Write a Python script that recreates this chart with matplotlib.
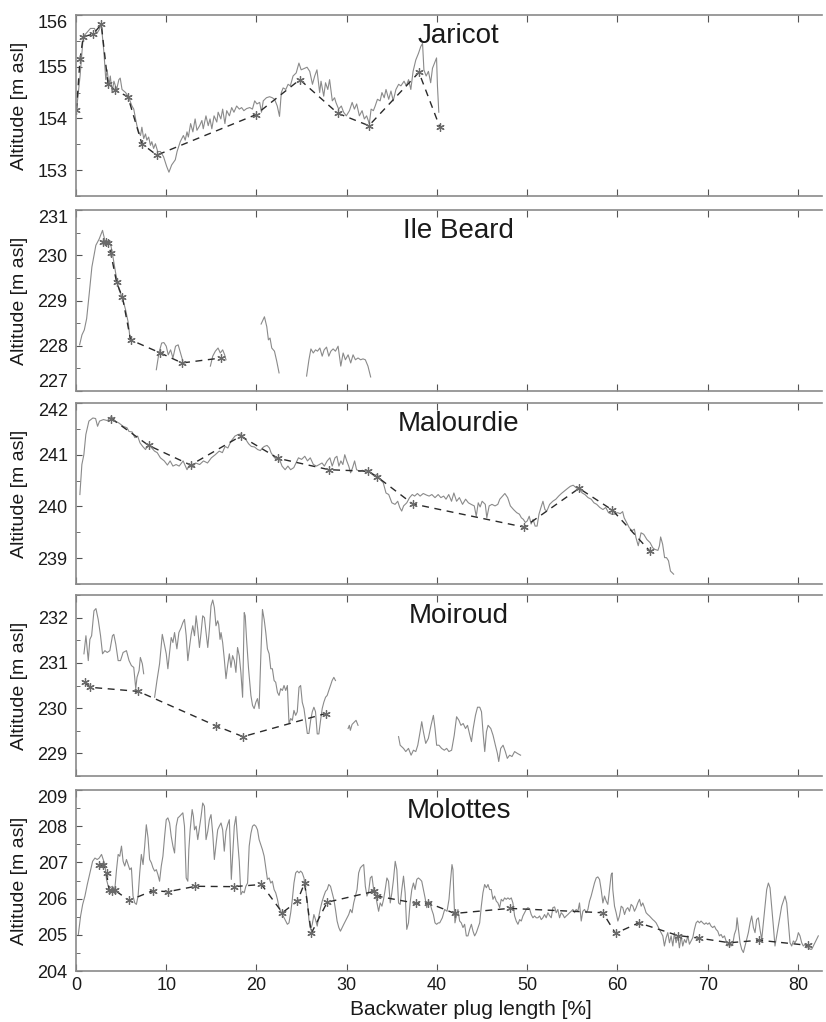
import matplotlib
matplotlib.use('Agg')
import matplotlib.pyplot as plt
from matplotlib.ticker import MultipleLocator

plt.rcParams['font.family'] = ['Liberation Sans', 'DejaVu Sans']

# ---------------- data ----------------
# Jaricot
jar_x = [0.05, 0.45, 0.8, 1.25, 1.6, 2.05, 2.3, 2.55, 2.8, 3.1,
         3.3, 3.45, 3.65, 3.8, 4.0, 4.2, 4.5, 4.75, 4.9, 5.1,
         5.5, 5.85, 6.2, 6.4, 6.6, 6.75, 6.95, 7.15, 7.3, 7.5,
         7.7, 7.85, 8.05, 8.25, 8.4, 8.6, 8.8, 9.05, 9.35, 9.7,
         10.05, 10.3, 10.6, 11.0, 11.2, 11.55, 11.9, 12.1, 12.3, 12.45,
         12.7, 12.95, 13.2, 13.4, 13.7, 13.95, 14.1, 14.4, 14.65, 14.85,
         15.05, 15.3, 15.6, 15.75, 16.05, 16.25, 16.5, 16.7, 17.0, 17.25,
         17.5, 17.8, 18.1, 18.35, 18.6, 18.9, 19.25, 19.55, 19.8, 20.05,
         20.35, 20.55, 20.75, 21.1, 21.45, 21.75, 22.0, 22.3, 22.55, 22.75,
         22.95, 23.25, 23.5, 23.75, 24.05, 24.4, 24.7, 24.95, 25.35, 25.6,
         25.9, 26.2, 26.45, 26.7, 27.0, 27.15, 27.45, 27.65, 27.9, 28.1,
         28.4, 28.65, 28.8, 29.1, 29.4, 29.65, 29.95, 30.3, 30.6, 30.85,
         31.1, 31.4, 31.7, 31.95, 32.2, 32.5, 32.7, 32.95, 33.15, 33.4,
         33.7, 33.9, 34.15, 34.35, 34.65, 34.9, 35.15, 35.45, 35.75, 36.0,
         36.35, 36.6, 36.85, 37.1, 37.35, 37.65, 37.95, 38.2, 38.4, 38.55,
         38.8, 39.05, 39.3, 39.5, 39.8, 39.95, 40.05, 40.2]
jar_y = [154.15, 154.82, 155.58, 155.67, 155.74, 155.74, 155.64, 155.71, 155.83, 155.26,
         154.75, 154.94, 154.63, 154.82, 154.50, 154.72, 154.56, 154.75, 154.78, 154.56,
         154.50, 154.40, 154.24, 154.18, 153.99, 153.86, 153.74, 153.67, 153.83, 153.61,
         153.70, 153.58, 153.64, 153.48, 153.55, 153.42, 153.51, 153.36, 153.36, 153.26,
         153.07, 152.96, 153.10, 153.20, 153.36, 153.55, 153.67, 153.58, 153.74, 153.64,
         153.90, 153.74, 153.99, 153.77, 153.86, 153.96, 153.80, 154.05, 153.86, 153.99,
         153.80, 154.05, 153.93, 154.12, 153.99, 154.18, 153.90, 154.15, 154.05, 154.21,
         154.12, 154.24, 154.18, 154.21, 154.15, 154.19, 154.21, 154.18, 154.34, 154.28,
         154.31, 154.12, 154.34, 154.40, 154.42, 154.40, 154.37, 154.24, 154.04, 154.50,
         154.59, 154.56, 154.66, 154.63, 154.82, 154.88, 155.07, 154.94, 154.97, 154.99,
         154.91, 154.66, 154.82, 154.94, 154.50, 154.72, 154.43, 154.69, 154.56, 154.75,
         154.34, 154.40, 154.31, 154.18, 154.24, 154.12, 154.05, 154.15, 154.31, 154.18,
         154.28, 154.05, 154.15, 153.99, 154.05, 153.90, 154.18, 154.15, 154.24, 154.37,
         154.34, 154.50, 154.40, 154.56, 154.37, 154.53, 154.34, 154.56, 154.66, 154.63,
         154.72, 154.63, 154.75, 154.56, 154.91, 155.13, 155.26, 155.39, 155.45, 154.94,
         154.82, 154.91, 154.69, 154.97, 155.10, 155.17, 154.63, 154.12]
jar_mx = [0.05, 0.45, 0.8, 1.9, 2.8, 3.55, 4.3, 5.75, 7.3, 8.95, 19.9, 24.8, 29.0, 32.45, 38.0, 40.3]
jar_my = [154.16, 155.15, 155.58, 155.63, 155.82, 154.66, 154.55, 154.42, 153.51, 153.29,
          154.07, 154.75, 154.10, 153.86, 154.89, 153.84]

# Ile Beard (profile has gaps -> several pieces)
ile_x1 = [0.4, 0.66, 0.92, 1.18, 1.47, 1.76, 2.2, 2.57, 2.94, 3.24, 3.6, 3.86, 4.04, 4.4,
          4.78, 5.15, 5.5, 5.8, 6.0]
ile_y1 = [228.02, 228.24, 228.35, 228.6, 229.16, 229.74, 230.22, 230.36, 230.55, 230.29, 230.31,
          230.22, 230.03, 229.6, 229.23, 229.05, 228.79, 228.5, 228.13]
ile_x2 = [8.9, 9.19, 9.49, 9.74, 10.0, 10.22, 10.48, 10.74, 11.03, 11.32, 11.58, 11.84]
ile_y2 = [227.47, 227.84, 228.06, 228.07, 227.99, 227.8, 227.91, 227.73, 227.99, 228.02, 227.84, 227.66]
ile_x3 = [14.89, 15.15, 15.44, 15.74, 15.99, 16.25, 16.47, 16.62]
ile_y3 = [227.55, 227.77, 227.88, 227.95, 227.84, 227.91, 227.8, 227.69]
ile_x4 = [20.51, 20.88, 21.14, 21.32, 21.5, 21.69, 21.99, 22.24, 22.5]
ile_y4 = [228.48, 228.64, 228.42, 228.13, 228.17, 227.95, 227.88, 227.66, 227.4]
ile_x5 = [25.55, 25.81, 26.03, 26.29, 26.54, 26.76, 27.02, 27.28, 27.5, 27.76, 28.01, 28.24, 28.49, 28.75,
          29.04, 29.34, 29.6, 29.85, 30.15, 30.44, 30.7, 30.96, 31.25, 31.54, 31.8, 32.06, 32.35, 32.65]
ile_y5 = [227.33, 227.69, 227.93, 227.84, 227.91, 227.88, 227.95, 227.77, 227.91, 227.97, 227.77, 227.88,
          227.93, 227.88, 227.99, 227.55, 227.84, 227.69, 227.8, 227.62, 227.8, 227.69, 227.73, 227.69,
          227.71, 227.69, 227.55, 227.31]
ile_mx = [3.0, 3.3, 3.6, 3.85, 4.5, 5.15, 6.05, 9.35, 11.75, 16.1]
ile_my = [230.29, 230.29, 230.27, 230.05, 229.4, 229.07, 228.13, 227.84, 227.62, 227.73]

# Malourdie
mal_x = [0.43, 0.65, 0.87, 1.09, 1.43, 1.87, 2.17, 2.39, 2.61, 3.04,
         3.48, 3.91, 4.35, 4.78, 5.22, 5.65, 5.87, 6.22, 6.52, 6.83,
         7.09, 7.39, 7.7, 8.04, 8.39, 8.7, 9.0, 9.35, 9.78, 10.13,
         10.43, 10.74, 11.09, 11.43, 11.87, 12.3, 12.61, 12.91, 13.26, 13.7,
         14.13, 14.57, 15.0, 15.43, 15.87, 16.22, 16.52, 16.83, 17.17, 17.61,
         17.96, 18.26, 18.48, 18.83, 19.13, 19.43, 19.78, 20.13, 20.43, 20.65,
         20.87, 21.17, 21.43, 21.61, 21.87, 22.17, 22.48, 22.83, 23.17, 23.48,
         23.78, 24.13, 24.48, 24.65, 25.0, 25.35, 25.65, 25.96, 26.3, 26.65,
         26.96, 27.26, 27.52, 27.83, 28.13, 28.39, 28.7, 28.91, 29.13, 29.35,
         29.57, 29.78, 30.0, 30.22, 30.43, 30.65, 30.87, 31.09, 31.43, 31.74,
         32.04, 32.39, 32.74, 33.04, 33.35, 33.7, 34.04, 34.35, 34.65, 35.0,
         35.35, 35.65, 35.87, 36.09, 36.3, 36.65, 36.96, 37.26, 37.52, 37.83,
         38.13, 38.48, 38.83, 39.13, 39.43, 39.78, 40.13, 40.43, 40.74, 41.0,
         41.3, 41.61, 41.87, 42.17, 42.48, 42.83, 43.17, 43.48, 43.78, 44.13,
         44.35, 44.57, 44.78, 45.0, 45.35, 45.52, 45.78, 46.09, 46.43, 46.74,
         46.96, 47.26, 47.52, 47.83, 48.13, 48.48, 48.83, 49.13, 49.35, 49.57,
         49.78, 50.0, 50.22, 50.43, 50.65, 50.87, 51.09, 51.3, 51.52, 51.74,
         51.96, 52.17, 52.48, 52.83, 53.17, 53.48, 53.78, 54.13, 54.48, 54.78,
         55.09, 55.43, 55.78, 56.09, 56.39, 56.74, 57.09, 57.39, 57.7, 58.04,
         58.39, 58.7, 59.0, 59.35, 59.7, 60.0, 60.3, 60.57, 60.74, 61.0,
         61.3, 61.61, 61.87, 62.04, 62.3, 62.61, 62.91, 63.26, 63.61, 63.91,
         64.13, 64.48, 64.65, 64.78, 65.0, 65.22, 65.43, 65.65, 65.87, 66.22]
mal_y = [240.23, 240.81, 241.0, 241.39, 241.65, 241.71, 241.70, 241.55, 241.65, 241.68,
         241.66, 241.74, 241.65, 241.61, 241.55, 241.52, 241.45, 241.44, 241.33, 241.36,
         241.23, 241.16, 241.10, 241.20, 241.13, 241.07, 241.04, 240.94, 240.88, 240.80,
         240.88, 240.78, 240.81, 240.78, 240.88, 240.71, 240.81, 240.76, 240.84, 240.81,
         240.88, 240.84, 240.94, 241.0, 241.07, 241.04, 241.16, 241.13, 241.26, 241.36,
         241.39, 241.40, 241.33, 241.29, 241.21, 241.16, 241.15, 241.10, 241.08, 241.13,
         241.16, 241.18, 241.13, 241.04, 240.97, 240.91, 240.94, 240.78, 240.71, 240.78,
         240.71, 240.75, 240.88, 240.94, 240.91, 240.97, 240.88, 240.94, 240.81, 240.78,
         240.81, 240.84, 240.78, 240.88, 240.94, 240.78, 240.94, 240.97, 240.78, 240.88,
         240.81, 241.0, 240.88, 240.78, 240.65, 240.75, 240.88, 240.71, 240.68, 240.70,
         240.67, 240.70, 240.63, 240.59, 240.62, 240.52, 240.46, 240.26, 240.23, 240.07,
         240.04, 240.10, 239.98, 239.91, 240.01, 240.07, 240.17, 240.23, 240.20, 240.25,
         240.20, 240.25, 240.22, 240.20, 240.23, 240.17, 240.23, 240.17, 240.20, 240.14,
         240.23, 240.10, 240.26, 240.10, 240.17, 240.04, 240.14, 240.07, 240.04, 240.01,
         239.81, 240.07, 239.99, 240.10, 240.04, 239.78, 240.01, 240.04, 240.01, 240.04,
         240.14, 240.20, 240.25, 240.17, 240.01, 239.94, 239.88, 239.85, 239.78, 239.75,
         239.69, 239.72, 239.81, 239.66, 239.75, 239.62, 239.62, 239.85, 239.98, 240.10,
         239.94, 239.91, 240.04, 240.10, 240.14, 240.20, 240.25, 240.30, 240.35, 240.39,
         240.41, 240.36, 240.33, 240.26, 240.23, 240.17, 240.14, 240.07, 240.04, 239.98,
         239.94, 239.98, 239.88, 239.85, 239.85, 239.88, 239.86, 239.90, 239.78, 239.69,
         239.59, 239.53, 239.56, 239.40, 239.24, 239.49, 239.46, 239.36, 239.30, 239.20,
         239.17, 239.15, 239.24, 239.41, 239.27, 239.01, 239.01, 238.95, 238.75, 238.69]
mal_mx = [3.91, 8.04, 12.7, 18.26, 22.39, 28.04, 32.39, 33.39, 37.3, 49.65, 55.74, 59.43, 63.57]
mal_my = [241.70, 241.18, 240.80, 241.36, 240.93, 240.71, 240.68, 240.57, 240.05, 239.60,
          240.35, 239.93, 239.14]

# Moiroud (profile has gaps)
moi_x1 = [0.88, 1.1, 1.36, 1.54, 1.73, 1.99, 2.21, 2.46, 2.72, 2.94, 3.2, 3.46, 3.75, 4.04, 4.19,
          4.41, 4.67, 4.93, 5.22, 5.59, 5.88, 6.14, 6.4, 6.62, 6.76, 6.99, 7.13, 7.35, 7.5]
moi_y1 = [231.2, 231.6, 231.05, 231.52, 231.6, 232.15, 232.2, 231.96, 231.6, 231.2, 231.27, 231.23,
          231.27, 231.6, 231.63, 231.41, 231.05, 231.05, 231.23, 231.27, 231.05, 230.94, 230.9,
          230.43, 230.68, 230.83, 231.12, 230.98, 230.76]
moi_x2 = [8.71, 8.97, 9.26, 9.56, 9.82, 10.0, 10.18, 10.37, 10.55, 10.74,
          10.92, 11.18, 11.4, 11.65, 11.84, 12.02, 12.21, 12.39, 12.57, 12.76,
          12.94, 13.13, 13.31, 13.49, 13.68, 13.86, 14.04, 14.23, 14.41, 14.6,
          14.78, 14.96, 15.15, 15.33, 15.51, 15.7, 15.81, 15.96, 16.07, 16.25,
          16.43, 16.62, 16.8, 16.99, 17.17, 17.35, 17.54, 17.72, 17.9, 18.09,
          18.27, 18.46, 18.64, 18.75, 18.9, 19.12, 19.38, 19.56, 19.74, 19.93,
          20.11, 20.29, 20.48, 20.66, 20.85, 21.03, 21.21, 21.4, 21.58, 21.76,
          21.95, 22.13, 22.32, 22.5, 22.68, 22.87, 23.05, 23.24, 23.42, 23.6,
          23.79, 23.97, 24.15, 24.34, 24.52, 24.71, 24.89, 25.07, 25.26, 25.44,
          25.63, 25.81, 26.0, 26.18, 26.36, 26.54, 26.73, 26.91, 27.1, 27.28,
          27.46, 27.65, 27.83, 28.01, 28.2, 28.38, 28.57, 28.75]
moi_y2 = [230.24, 230.61, 230.98, 231.63, 231.38, 231.2, 230.87, 231.23, 231.56, 231.45,
          231.67, 231.31, 231.67, 231.78, 231.89, 231.96, 231.6, 231.05, 231.34, 231.63,
          231.82, 231.6, 232.04, 231.74, 231.34, 231.67, 232.04, 232.0, 231.67, 231.34,
          231.74, 232.26, 232.39, 232.22, 231.82, 231.93, 231.85, 231.52, 231.67, 231.45,
          231.09, 230.65, 230.94, 231.2, 230.9, 231.16, 231.05, 230.79, 231.34, 231.16,
          230.79, 230.24, 232.11, 232.04, 231.52, 230.87, 230.28, 230.06, 229.99, 230.13,
          230.21, 229.99, 231.16, 232.18, 231.96, 231.67, 231.31, 231.2, 230.87, 230.87,
          230.61, 230.57, 230.35, 230.28, 230.43, 230.39, 230.5, 230.39, 230.5, 229.66,
          229.77, 229.73, 229.95, 229.84, 229.92, 230.46, 230.5, 230.13, 229.99, 229.73,
          229.44, 229.44, 229.73, 229.92, 230.02, 229.92, 229.43, 229.43, 229.73, 229.99,
          230.13, 230.24, 230.28, 230.39, 230.5, 230.61, 230.68, 230.61]
moi_x3 = [30.15, 30.29, 30.4, 30.59, 30.88, 31.03, 31.25]
moi_y3 = [229.55, 229.62, 229.51, 229.64, 229.7, 229.73, 229.62]
moi_x4 = [35.74, 35.92, 36.29, 36.54, 36.84, 37.13, 37.39, 37.65, 37.87, 38.13,
          38.31, 38.49, 38.75, 39.04, 39.34, 39.6, 39.78, 39.96, 40.22, 40.51,
          40.81, 41.07, 41.32, 41.62, 41.91, 42.17, 42.43, 42.65, 42.9, 43.16,
          43.38, 43.64, 43.82, 44.01, 44.26, 44.49, 44.74, 44.93, 45.11, 45.29,
          45.48, 45.66, 45.96, 46.21, 46.47, 46.69, 46.84, 47.06, 47.32, 47.57,
          47.79, 48.05, 48.31, 48.6, 48.9, 49.26]
moi_y4 = [229.37, 229.18, 229.11, 229.04, 229.11, 228.96, 229.07, 229.04, 229.18, 229.48,
          229.7, 229.48, 229.22, 229.33, 229.62, 229.84, 229.55, 229.18, 229.18, 229.11,
          229.07, 229.11, 229.04, 229.07, 229.4, 229.81, 229.73, 229.62, 229.66, 229.55,
          229.62, 229.4, 229.26, 229.55, 229.84, 230.02, 230.02, 229.92, 229.44, 229.04,
          229.48, 229.62, 229.55, 229.4, 229.18, 229.0, 228.82, 229.11, 229.18, 229.04,
          228.89, 228.96, 228.93, 229.04, 229.0, 228.96]
moi_mx = [0.95, 1.6, 6.9, 15.5, 18.5, 27.65]
moi_my = [230.57, 230.46, 230.37, 229.61, 229.37, 229.88]

# Molottes
mol_x = [0.26, 0.51, 0.74, 0.99, 1.25, 1.54, 1.84, 2.1, 2.35, 2.57,
         2.83, 3.01, 3.2, 3.38, 3.57, 3.75, 4.04, 4.3, 4.49, 4.67,
         4.85, 5.04, 5.22, 5.4, 5.59, 5.77, 5.96, 6.14, 6.32, 6.51,
         6.69, 6.88, 7.06, 7.24, 7.43, 7.61, 7.79, 7.98, 8.16, 8.35,
         8.53, 8.71, 8.9, 9.08, 9.26, 9.45, 9.63, 9.82, 10.0, 10.18,
         10.37, 10.55, 10.74, 10.92, 11.1, 11.29, 11.47, 11.65, 11.84, 12.02,
         12.21, 12.39, 12.5, 12.65, 12.87, 13.01, 13.13, 13.31, 13.49, 13.68,
         13.86, 14.04, 14.23, 14.41, 14.6, 14.78, 14.96, 15.15, 15.33, 15.51,
         15.7, 15.88, 16.07, 16.25, 16.43, 16.62, 16.8, 16.99, 17.1, 17.21,
         17.35, 17.54, 17.72, 17.9, 18.09, 18.27, 18.46, 18.64, 18.82, 19.01,
         19.19, 19.38, 19.56, 19.74, 19.93, 20.11, 20.29, 20.48, 20.66, 20.85,
         21.03, 21.21, 21.4, 21.58, 21.76, 21.95, 22.13, 22.32, 22.5, 22.68,
         22.87, 23.05, 23.24, 23.42, 23.6, 23.79, 23.97, 24.15, 24.34, 24.52,
         24.71, 24.89, 25.07, 25.26, 25.44, 25.63, 25.81, 26.0, 26.18, 26.36,
         26.54, 26.73, 26.91, 27.1, 27.28, 27.46, 27.65, 27.83, 28.01, 28.2,
         28.38, 28.57, 28.75, 28.93, 29.12, 29.3, 29.49, 29.67, 29.85, 30.04,
         30.22, 30.4, 30.59, 30.77, 30.96, 31.14, 31.32, 31.51, 31.69, 31.88,
         32.06, 32.24, 32.43, 32.61, 32.79, 32.98, 33.16, 33.35, 33.53, 33.71,
         33.9, 34.08, 34.26, 34.45, 34.63, 34.82, 35.0, 35.18, 35.37, 35.55,
         35.74, 35.92, 36.1, 36.29, 36.47, 36.65, 36.84, 37.02, 37.21, 37.39,
         37.57, 37.76, 37.94, 38.13, 38.31, 38.49, 38.68, 38.86, 39.04, 39.23,
         39.41, 39.6, 39.78, 39.96, 40.15,
         40.3, 40.59, 40.85, 41.11, 41.33, 41.51, 41.66, 41.77, 41.88, 41.99,
         42.14, 42.32, 42.51, 42.69, 42.88, 43.06, 43.25, 43.43, 43.62, 43.81,
         43.99, 44.17, 44.36, 44.55, 44.73, 44.91, 45.09, 45.28, 45.47, 45.65,
         45.83, 46.01, 46.2, 46.38, 46.57, 46.75, 46.94, 47.12, 47.31, 47.49,
         47.67, 47.86, 48.04, 48.23, 48.41, 48.6, 48.78, 48.97, 49.16, 49.34,
         49.52, 49.71, 49.89, 50.07, 50.26, 50.44, 50.63, 50.81, 51.0, 51.18,
         51.37, 51.55, 51.73, 51.92, 52.1, 52.29, 52.47, 52.66, 52.84, 53.03,
         53.21, 53.39, 53.58, 53.76, 53.95, 54.13, 54.32, 54.5, 54.69, 54.87,
         55.06, 55.24, 55.42, 55.61, 55.79, 55.98, 56.16, 56.35, 56.53, 56.72,
         56.9, 57.08, 57.27, 57.45, 57.64, 57.82, 58.01, 58.19, 58.38, 58.56,
         58.75, 58.93, 59.11, 59.3, 59.41, 59.48, 59.67, 59.85, 60.04, 60.22,
         60.41, 60.59, 60.78, 60.96, 61.14, 61.33, 61.51, 61.7, 61.88, 62.07,
         62.25, 62.44, 62.62, 62.8, 62.99, 63.17, 63.36, 63.54, 63.73, 63.91,
         64.1, 64.28, 64.46, 64.65, 64.83, 65.02, 65.2, 65.39, 65.57, 65.76,
         65.94, 66.13, 66.31, 66.49, 66.68, 66.86, 67.05, 67.23, 67.42, 67.6,
         67.79, 67.97, 68.15, 68.34, 68.52, 68.71, 68.89, 69.08, 69.26, 69.45,
         69.63, 69.82, 70.0, 70.18, 70.37, 70.55, 70.74, 70.92, 71.11, 71.29,
         71.48, 71.66, 71.85, 72.03, 72.21, 72.4, 72.58, 72.77, 72.95, 73.14,
         73.25, 73.4, 73.58, 73.76, 73.95, 74.13, 74.32, 74.5, 74.69, 74.87,
         75.06, 75.24, 75.42, 75.61, 75.79, 75.98, 76.16, 76.35, 76.53, 76.72,
         76.9, 77.08, 77.27, 77.45, 77.64, 77.82, 78.01, 78.19, 78.38, 78.56,
         78.75, 78.94, 79.12, 79.3, 79.49, 79.67, 79.86, 80.04, 80.22, 80.41,
         80.59, 80.78, 80.96, 81.15, 81.33, 81.52, 81.7, 81.88, 82.07, 82.25]
mol_y = [205.01, 205.52, 205.84, 206.07, 206.39, 206.71, 207.03, 207.12, 207.08, 207.12,
         207.22, 207.08, 206.94, 206.53, 206.34, 206.30, 206.34, 206.25, 206.80, 207.22,
         207.17, 207.45, 207.03, 206.90, 207.08, 206.94, 206.80, 206.85, 206.07, 205.88,
         205.84, 206.07, 206.71, 207.22, 206.94, 207.45, 208.04, 207.68, 207.08, 206.99,
         206.85, 206.76, 206.80, 206.66, 206.48, 206.90, 207.17, 207.72, 208.18, 208.23,
         208.09, 207.72, 207.45, 207.26, 208.0, 208.23, 208.27, 208.32, 208.37, 208.0,
         206.57, 206.48, 207.35, 207.90, 208.46, 208.27, 207.90, 208.0, 207.63, 207.95,
         208.27, 208.64, 208.55, 207.63, 207.86, 208.18, 208.32, 207.80, 207.08, 207.49,
         207.90, 208.0, 208.09, 207.90, 207.31, 207.86, 208.04, 208.18, 207.40, 206.53,
         207.17, 208.0, 208.27, 207.63, 207.03, 206.11, 206.20, 206.16, 206.34, 206.43,
         207.45, 207.80, 208.0, 208.04, 208.0, 207.90, 207.63, 207.49, 207.35, 207.17,
         206.85, 206.53, 206.57, 206.43, 206.48, 206.25, 206.16, 205.98, 205.75, 205.65,
         205.56, 205.47, 205.38, 205.29, 205.33, 205.61, 205.98, 206.43, 206.71, 206.76,
         206.71, 206.76, 206.71, 206.57, 206.25, 205.93, 205.42, 205.15, 205.29, 205.56,
         205.42, 205.24, 205.52, 205.75, 205.93, 206.07, 206.20, 206.25, 206.39, 206.34,
         206.16, 205.98, 205.70, 205.38, 205.20, 205.10, 205.20, 205.29, 205.38, 205.47,
         205.56, 205.70, 205.61, 205.88, 206.07, 206.25, 206.71, 206.85, 206.90, 206.94,
         206.34, 206.07, 206.20, 206.57, 206.62, 206.25, 206.16, 205.88, 205.65, 205.88,
         205.79, 205.98, 206.25, 206.57, 206.48, 205.88, 206.16, 206.53, 207.03, 206.80,
         205.88, 205.84, 206.25, 206.62, 206.16, 205.15, 205.33, 205.88, 206.25, 206.43,
         206.25, 206.53, 206.57, 206.53, 206.48, 206.25, 206.02, 205.75, 205.93, 205.88,
         205.70, 205.56, 205.33, 205.29, 205.33,
         205.33, 205.47, 205.70, 205.65, 205.98, 206.53, 206.94, 206.80, 205.98, 205.33,
         205.52, 205.70, 205.38, 205.33, 205.20, 205.29, 204.97, 204.97, 205.15, 205.29,
         205.10, 204.97, 205.06, 205.20, 205.33, 205.79, 206.16, 206.39, 206.30, 206.39,
         206.25, 206.25, 205.98, 206.07, 205.93, 205.88, 205.75, 205.98, 205.93, 206.02,
         205.98, 206.02, 205.98, 206.02, 205.88, 205.52, 205.38, 205.29, 205.42, 205.38,
         205.52, 205.61, 205.70, 205.75, 205.72, 205.56, 205.47, 205.52, 205.47, 205.47,
         205.52, 205.42, 205.47, 205.56, 205.47, 205.61, 205.53, 205.47, 205.75, 205.77,
         205.61, 205.70, 205.47, 205.61, 205.56, 205.47, 205.52, 205.56, 205.61, 205.65,
         205.70, 205.61, 205.70, 205.65, 205.88, 205.38, 205.65, 205.70, 205.61, 205.70,
         205.93, 206.07, 206.25, 206.43, 206.57, 206.60, 206.53, 206.25, 205.88, 206.07,
         205.93, 205.84, 206.25, 206.66, 206.71, 206.25, 205.79, 205.61, 205.38, 205.52,
         205.79, 205.75, 205.56, 205.70, 205.75, 205.65, 205.84, 205.79, 205.65, 205.75,
         205.88, 205.98, 205.79, 205.88, 205.75, 205.61, 205.56, 205.52, 205.47, 205.42,
         205.38, 205.33, 205.24, 205.15, 205.06, 204.97, 204.69, 204.92, 205.06, 204.78,
         204.97, 204.69, 205.06, 204.78, 204.97, 204.64, 204.97, 204.69, 204.87, 204.78,
         204.97, 204.74, 204.83, 204.92, 205.15, 205.33, 205.38, 205.33, 205.38, 205.33,
         205.29, 205.33, 205.29, 205.33, 205.24, 205.20, 205.24, 205.15, 205.10, 204.97,
         205.01, 204.92, 204.97, 204.83, 204.69, 204.78, 204.69, 204.74, 205.01, 205.15,
         205.47, 205.15, 204.78, 204.60, 204.51, 204.69, 204.87, 205.06, 205.33, 205.52,
         205.20, 205.06, 205.42, 205.47, 205.15, 204.87, 205.33, 205.79, 206.25, 206.43,
         206.30, 205.79, 205.24, 204.69, 204.97, 205.24, 205.52, 205.79, 205.93, 206.07,
         205.88, 205.33, 204.78, 204.69, 204.83, 204.78, 204.87, 205.06, 204.97, 204.78,
         204.69, 204.74, 204.64, 204.69, 204.60, 204.60, 204.69, 204.78, 204.87, 204.97]
mol_mx = [2.57, 3.01, 3.38, 3.68, 4.01, 4.3, 5.88, 8.53, 10.18, 13.24, 17.46, 20.55, 22.87,
          24.52, 25.33, 26.07, 27.83, 33.05, 33.35, 37.68, 39.04, 41.96, 48.04, 58.38, 59.78,
          62.36, 66.68, 69.0, 72.4, 75.72, 81.07]
mol_my = [206.92, 206.92, 206.71, 206.23, 206.2, 206.23, 205.95, 206.22, 206.19, 206.34,
          206.33, 206.39, 205.61, 205.93, 206.43, 205.04, 205.9, 206.2, 206.07, 205.87,
          205.88, 205.59, 205.73, 205.61, 205.04, 205.33, 204.98, 204.91, 204.78, 204.85, 204.71]

names = ['Jaricot', 'Ile Beard', 'Malourdie', 'Moiroud', 'Molottes']
profiles = [
    [(jar_x, jar_y)],
    [(ile_x1, ile_y1), (ile_x2, ile_y2), (ile_x3, ile_y3), (ile_x4, ile_y4), (ile_x5, ile_y5)],
    [(mal_x, mal_y)],
    [(moi_x1, moi_y1), (moi_x2, moi_y2), (moi_x3, moi_y3), (moi_x4, moi_y4)],
    [(mol_x, mol_y)],
]
markers = [(jar_mx, jar_my), (ile_mx, ile_my), (mal_mx, mal_my), (moi_mx, moi_my), (mol_mx, mol_my)]
ylims = [(152.5, 156.0), (227.0, 231.0), (238.5, 242.0), (228.5, 232.5), (204.0, 209.0)]

# ---------------- layout (pixels of the 826x1022 picture) ----------------
W, H = 826, 1022
left_px, right_px = 76, 822
tops_px = [15, 210, 403, 595, 790]
height_px = 181

fig = plt.figure(figsize=(W / 100, H / 100), dpi=100)
axes = []

for i, name in enumerate(names):
    top = tops_px[i]
    ax = fig.add_axes([left_px / W, 1 - (top + height_px) / H,
                       (right_px - left_px) / W, height_px / H])
    axes.append(ax)

    for sx, sy in profiles[i]:
        ax.plot(sx, sy, color='#8a8a8a', lw=0.8)

    mx, my = markers[i]
    ax.plot(mx, my, color='#2a2a2a', lw=1.0, ls=(0, (5, 4)),
            marker=(6, 2, 0), ms=6, mec='#6a6a6a', mew=0.9)

    ax.set_xlim(0, 82.66)
    ax.set_ylim(*ylims[i])
    ax.xaxis.set_major_locator(MultipleLocator(10))
    ax.yaxis.set_major_locator(MultipleLocator(1))
    ax.yaxis.set_minor_locator(MultipleLocator(0.5))

    ax.tick_params(axis='both', which='both', direction='in', color='#555555',
                   labelcolor='#1a1a1a', labelsize=13)
    ax.tick_params(axis='x', top=True, bottom=True, length=5, pad=4,
                   labelbottom=(i == len(names) - 1))
    ax.tick_params(axis='y', which='major', length=4, pad=6)
    ax.tick_params(axis='y', which='minor', length=3)

    for side in ['top', 'bottom', 'left']:
        ax.spines[side].set_color('#8a8a8a')
        ax.spines[side].set_linewidth(1.2)
    ax.spines['right'].set_visible(False)

    ax.set_ylabel('Altitude [m asl]', fontsize=14, color='#1a1a1a')
    ax.yaxis.set_label_coords(-0.064, 0.5)

    ax.text(0.513, 1 - 21 / height_px, name, transform=ax.transAxes,
            ha='center', va='center', fontsize=20, color='#1a1a1a')

fig.text(471 / W, 1 - 1009 / H, 'Backwater plug length [%]',
         ha='center', va='center', fontsize=15, color='#1a1a1a')

# keep the end labels of each panel inside the panel, as in the reference
fig.canvas.draw()
for i, ax in enumerate(axes):
    lo, hi = ax.get_ylim()
    for tick in ax.yaxis.get_major_ticks():
        if abs(tick.get_loc() - hi) < 1e-6:
            tick.label1.set_va('top')
        elif abs(tick.get_loc() - lo) < 1e-6 and i < len(axes) - 1:
            tick.label1.set_va('bottom')

fig.savefig('out.png', dpi=100)
